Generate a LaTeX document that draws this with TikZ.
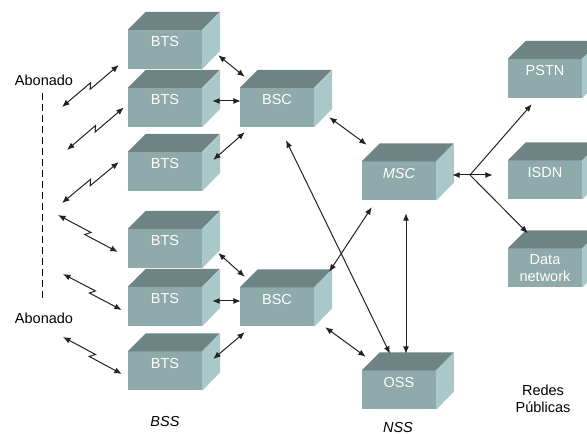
\documentclass[tikz,border=0pt]{standalone}
\usepackage{fontspec}
\setmainfont{Liberation Sans}
\usepackage{xcolor}
\usetikzlibrary{arrows.meta, positioning, calc}

\definecolor{frontc}{HTML}{8EAAAB}
\definecolor{topc}{HTML}{6D8384}
\definecolor{sidec}{HTML}{A8C8CA}
\definecolor{wirec}{HTML}{222222}

\begin{document}
\begin{tikzpicture}[x=1pt, y=1pt, font=\fontsize{14.5}{17}\selectfont,
    unit/.style={rectangle, fill=frontc, text=white, minimum width=74pt, minimum height=39pt, inner sep=0pt, align=center},
    one/.style={unit, text height=10.5pt, text depth=16pt},
    link/.style={{Latex[length=7.5pt,width=6pt]}-{Latex[length=7.5pt,width=6pt]}, draw=wirec, line width=1pt},
    feed/.style={-{Latex[length=7.5pt,width=6pt]}, draw=wirec, line width=1pt},
    tag/.style={inner sep=0pt, anchor=base, align=center}]

    \useasboundingbox (0,0) rectangle (587,435);

    \node[one] (bts1) at (165,385.5) {BTS};
    \node[one] (bts2) at (165,327.5) {BTS};
    \node[one] (bts3) at (165,263.5) {BTS};
    \node[one] (bts4) at (165,186.5) {BTS};
    \node[one] (bts5) at (165,128.5) {BTS};
    \node[one] (bts6) at (165,64) {BTS};
    \node[one] (bsc1) at (277,327.5) {BSC};
    \node[one] (bsc2) at (277,128) {BSC};
    \node[one] (msc) at (399,254) {\itshape MSC};
    \node[one] (oss) at (399,45) {OSS};
    \node[one] (pstn) at (545,356.5) {PSTN};
    \node[one] (isdn) at (545,255) {ISDN};
    \node[unit] (data) at (545,167) {Data\\network};

    \foreach \n in {bts1,bts2,bts3,bts4,bts5,bts6,bsc1,bsc2,msc,oss,pstn,isdn,data} {
        \fill[topc] (\n.north west) -- ++(18,18) -- ++(74,0) -- (\n.north east) -- cycle;
        \fill[sidec] (\n.north east) -- ++(18,18) -- ++(0,-39) -- (\n.south east) -- cycle;
    }

    \node[tag] (ab1) at (44,349) {Abonado};
    \node[tag] (ab2) at (44,111) {Abonado};
    \node[tag] (bss) at (165,8) {\itshape BSS};
    \node[tag] (nss) at (398,2) {\itshape NSS};
    \node[tag] (redes) at (543,22) {Redes\\Públicas};

    \draw[dashed, dash pattern=on 7pt off 4pt, line width=0.9pt] ([shift={(-2,-7)}]ab1.south) -- ([shift={(-2,11)}]ab2.north);

    \coordinate (m1) at (62,328);
    \coordinate (m2) at (67,285);
    \coordinate (m3) at (62,232);
    \coordinate (m4) at (58,220);
    \coordinate (m5) at (63,161);
    \coordinate (m6) at (63,98);
    \coordinate (r1) at ([shift={(-9,-15.5)}]bts1.west);
    \coordinate (r2) at ([shift={(-4,0)}]bts2.west);
    \coordinate (r3) at ([shift={(-9,9.5)}]bts3.west);
    \coordinate (r4) at ([shift={(-10,-3.5)}]bts4.west);
    \coordinate (r5) at ([shift={(-6,-3.5)}]bts5.west);
    \coordinate (r6) at ([shift={(-6,-3)}]bts6.west);
    \foreach \i in {1,...,6}
        \draw[link] (m\i) -- ($(m\i)!0.53!(r\i)!2.5pt!90:(r\i)$) -- ($(m\i)!0.47!(r\i)!2.5pt!-90:(r\i)$) -- (r\i);

    \draw[link] ([shift={(16,14)}]bts1.south east) -- ([shift={(5,11)}]bsc1.north west);
    \draw[link] ([shift={(10,6.5)}]bts2.east) -- ([shift={(1,6.5)}]bsc1.west);
    \draw[link] ([shift={(11,11.5)}]bts3.east) -- ([shift={(5,-5)}]bsc1.south west);
    \draw[link] ([shift={(16,-4.5)}]bts4.east) -- ([shift={(5,10.5)}]bsc2.north west);
    \draw[link] ([shift={(10,5.5)}]bts5.east) -- ([shift={(1,6)}]bsc2.west);
    \draw[link] ([shift={(11,12)}]bts6.east) -- ([shift={(5,-5.5)}]bsc2.south west);

    \draw[link] ([shift={(15,10)}]bsc1.south east) -- ([shift={(5,16.5)}]msc.north west);
    \draw[link] ([shift={(15,15.5)}]bsc2.north east) -- ([shift={(10,-6.5)}]msc.south west);
    \draw[link] ([shift={(11,-0.5)}]bsc2.south east) -- ([shift={(4,13.5)}]oss.north west);
    \draw[link] ([shift={(9,-13)}]bsc1.south) -- ([shift={(-9,16.5)}]oss.north);
    \draw[link] ([shift={(7,-12.5)}]msc.south) -- ([shift={(7,16.5)}]oss.north);

    \coordinate (br) at (470,260);
    \draw[feed] (br) -- ([shift={(16,6)}]msc.east);
    \draw[feed] (br) -- ([shift={(-15,5)}]isdn.west);
    \draw[feed] (br) -- ([shift={(24,-6)}]pstn.south west);
    \draw[feed] (br) -- ([shift={(20,15)}]data.north west);
\end{tikzpicture}
\end{document}
